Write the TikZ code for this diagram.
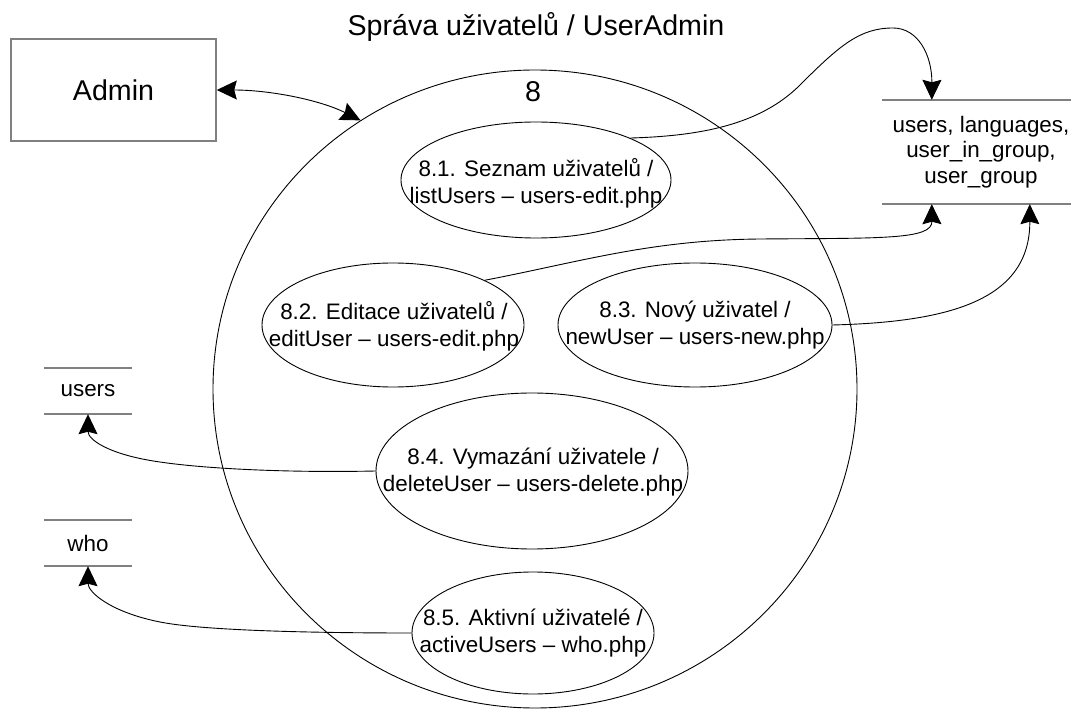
\documentclass[tikz,border=0pt]{standalone}
\usepackage{fontspec}
\setmainfont{Liberation Sans}
\usetikzlibrary{shapes.geometric,arrows.meta}
\definecolor{linegray}{HTML}{808080}
\begin{document}
\begin{tikzpicture}[x=1pt,y=-1pt,
  >={Stealth[length=20pt,width=19pt,inset=2.5pt]},
  bigtext/.style={font=\fontsize{28.6pt}{34pt}\selectfont, inner sep=0pt},
  ptext/.style={font=\fontsize{22.4pt}{27pt}\selectfont, align=center, inner sep=0pt},
  proc/.style={ellipse, draw=black, line width=0.9pt, inner sep=0pt},
  store/.style={rectangle, inner sep=0pt, align=center,
    font=\fontsize{22.4pt}{25.5pt}\selectfont},
  storeline/.style={draw=linegray, line width=1.5pt},
  flow/.style={draw=black, line width=0.9pt},
]
\useasboundingbox[fill=white] (0,0) rectangle (1071,711);

% title
\node[bigtext, anchor=base] (title) at (536,36) {Správa uživatelů / UserAdmin};

% external entity
\node[draw=linegray, line width=1.5pt, minimum width=205pt, minimum height=102pt,
      inner sep=0pt, font=\fontsize{28.6pt}{34pt}\selectfont] (admin) at (113.5,90) {Admin};

% main process
\node[proc, minimum width=644pt, minimum height=638pt] (C) at (535,389) {};
\node[bigtext, anchor=base] (Cnum) at (533,102) {8};

% sub-processes
\node[proc, minimum width=270pt, minimum height=116pt] (e1) at (536,180) {};
\node[ptext] (e1t) at (536,183) {8.1. Seznam uživatelů /\\listUsers – users-edit.php};

\node[proc, minimum width=262pt, minimum height=124pt] (e2) at (393,325) {};
\node[ptext] (e2t) at (394,326) {8.2. Editace uživatelů /\\editUser – users-edit.php};

\node[proc, minimum width=274pt, minimum height=124pt] (e3) at (695,325) {};
\node[ptext] (e3t) at (695,325) {8.3. Nový uživatel /\\newUser – users-new.php};

\node[proc, minimum width=312pt, minimum height=156pt] (e4) at (532,471) {};
\node[ptext] (e4t) at (533,472) {8.4. Vymazání uživatele /\\deleteUser – users-delete.php};

\node[proc, minimum width=242pt, minimum height=122pt] (e5) at (533,633) {};
\node[ptext] (e5t) at (533,633) {8.5. Aktivní uživatelé /\\activeUsers – who.php};

% data stores
\node[store, minimum width=198pt, minimum height=104pt] (st1) at (981,152)
  {users, languages,\\user\_in\_group,\\user\_group};
\draw[storeline] (st1.north west) -- (st1.north east);
\draw[storeline] (st1.south west) -- (st1.south east);

\node[store, minimum width=88pt, minimum height=46pt] (users) at (88,391) {users};
\draw[storeline] (users.north west) -- (users.north east);
\draw[storeline] (users.south west) -- (users.south east);

\node[store, minimum width=88pt, minimum height=46pt] (who) at (88,543) {who};
\draw[storeline] (who.north west) -- (who.north east);
\draw[storeline] (who.south west) -- (who.south east);

% flows
\draw[flow,<->] (admin.east) .. controls (270,90) and (320,100) .. (C.123);

\draw[flow,->] (e1.24) .. controls (700,136) and (760,125) .. (800,85)
  .. controls (840,45) and (860,28) .. (893,28)
  .. controls (918,28) and (932,55) .. ([xshift=50pt]st1.north west);

\draw[flow,->] (e2.26) .. controls (580,262) and (650,240) .. (760,239)
  .. controls (880,238) and (932,240) .. ([xshift=50pt]st1.south west);

\draw[flow,->] (e3.east) .. controls (950,322) and (1030,300) .. ([xshift=148pt]st1.south west);

\draw[flow,->] (e4.west) .. controls (280,473) and (200,468) .. (160,462)
  .. controls (110,455) and (88,440) .. (users.south);

\draw[flow,->] (e5.west) .. controls (300,633) and (200,630) .. (160,622)
  .. controls (110,612) and (88,592) .. (who.south);
\end{tikzpicture}
\end{document}
